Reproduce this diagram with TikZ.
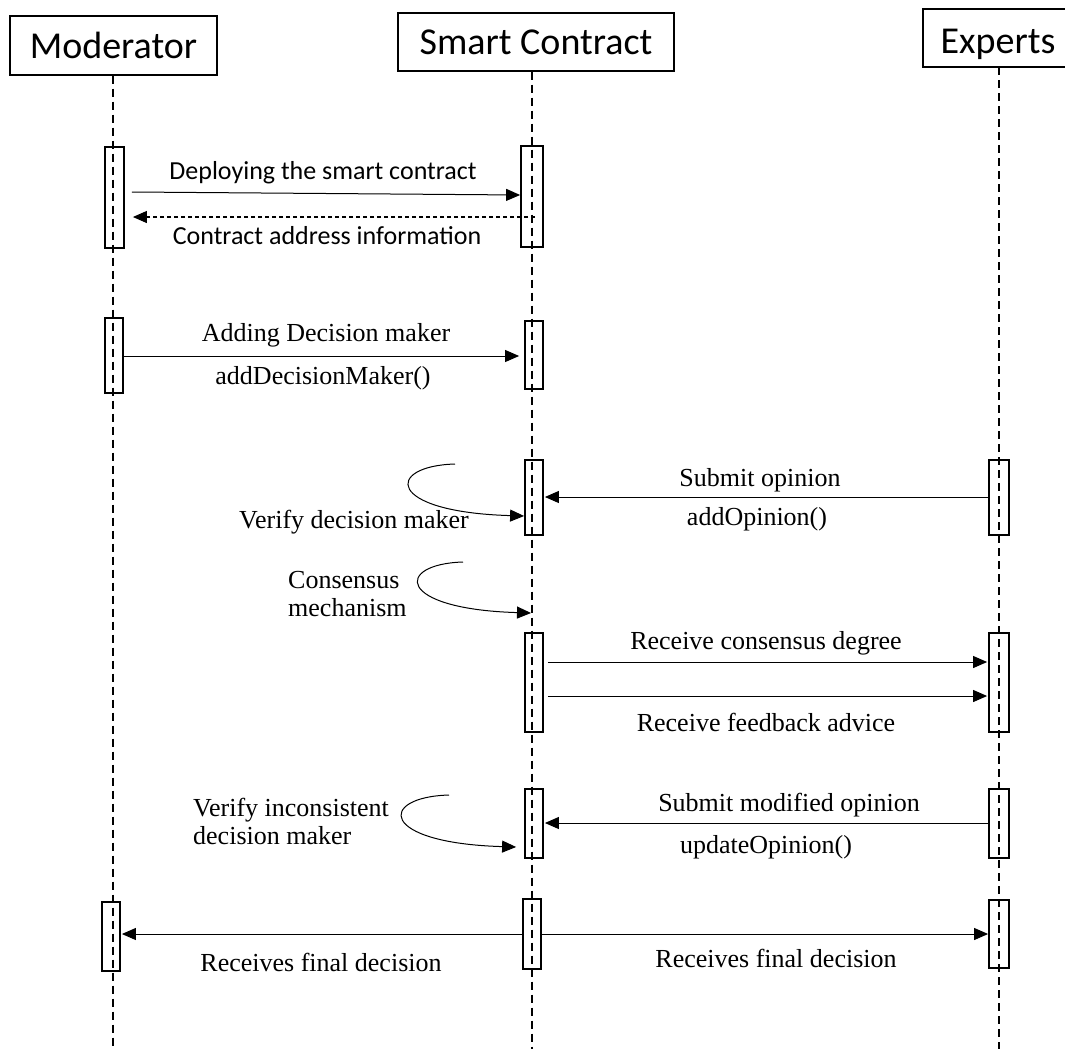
\documentclass[tikz,border=0pt]{standalone}
\usepackage{fontspec}
\setmainfont{Liberation Serif}
\newfontfamily\calib{Carlito}
\usetikzlibrary{arrows.meta,calc}
\tikzset{
  life/.style={line width=1.3pt, dash pattern=on 8pt off 5pt},
  actbar/.style={draw, line width=1.8pt, rectangle, inner sep=0pt},
  head/.style={draw, line width=1.4pt, rectangle, inner sep=0pt, font=\calib\fontsize{38}{40}\selectfont},
  msg/.style={line width=1pt, -{Triangle[length=14pt,width=12pt]}},
  rmsg/.style={line width=1.1pt, dash pattern=on 4pt off 3pt, -{Triangle[length=14pt,width=12pt]}},
  lbl/.style={inner sep=0pt, font=\fontsize{26}{28}\selectfont},
  slbl/.style={inner sep=0pt, font=\calib\fontsize{26}{28}\selectfont},
}
\newcommand{\actbox}[5]{\node[actbar, minimum width={(#4-#2)*1pt}, minimum height={(#5-#3)*1pt}] (#1) at ({(#2+#4)/2},{(#3+#5)/2}) {};}
\begin{document}
\begin{tikzpicture}[x=1pt,y=-1pt]
\useasboundingbox (0,0) rectangle (1065,1049);
% headers
\node[head, minimum width=207pt, minimum height=59pt] (mod) at (113.5,45.5) {Moderator};
\node[head, minimum width=276pt, minimum height=58pt] (sc) at (536,42) {Smart Contract};
\node[inner sep=0pt, font=\calib\fontsize{38}{40}\selectfont] (exp) at (998,44) {Experts};
\draw[line width=1.4pt] (1066,9) -| (923,67) -- (1066,67);
% lifeline ends
\coordinate (modbot) at (113,1049);
\coordinate (scbot) at (532,1049);
\coordinate (expbot) at (999,1049);
\coordinate (exptop) at (999,67);
\draw[life] (modbot |- mod.south) -- (modbot);
\draw[life] (scbot |- sc.south) -- (scbot);
\draw[life] (exptop) -- (expbot);
% activation bars
\actbox{m1}{105}{147}{124}{248}
\actbox{s1}{521}{146}{543}{247}
\actbox{m2}{105}{318}{123}{393}
\actbox{s2}{525}{321}{543}{389}
\actbox{s3}{525}{460}{543}{535}
\actbox{e3}{989}{460}{1009}{535}
\actbox{s4}{525}{633}{543}{732}
\actbox{e4}{989}{633}{1009}{732}
\actbox{s5}{525}{789}{543}{858}
\actbox{e5}{989}{789}{1009}{858}
\actbox{m6}{102}{902}{120}{971}
\actbox{s6}{523}{899}{541}{969}
\actbox{e6}{989}{900}{1009}{968}
% messages
\draw[msg] ($(m1.east |- 0,192)+(7,0)$) -- (s1.west |- 0,195);
\node[slbl] (t1) at (323,173) {Deploying the smart contract};
\draw[rmsg] ($(s1.center |- 0,217)+(3,0)$) -- ($(m1.east |- 0,217)+(8,0)$);
\node[slbl] (t2) at (327,236) {Contract address information};
\draw[msg] (m2.east |- 0,356) -- ($(s2.west |- 0,356)+(-5,0)$);
\node[lbl] (t3) at (326,335) {Adding Decision maker};
\node[lbl] (t4) at (323,378) {addDecisionMaker()};
\draw[msg] (e3.west |- 0,497) -- ($(s3.east |- 0,497)+(1,0)$);
\node[lbl] (t5) at (760,480) {Submit opinion};
\node[lbl] (t6) at (757,519) {addOpinion()};
\coordinate (c1) at (455,464);
\draw[msg] (c1) .. controls (385,466) and (385,512) .. (s3.west |- 0,516);
\node[lbl] (t7) at (354,522) {Verify decision maker};
\coordinate (c2) at (463,562);
\coordinate (c2e) at (531,613);
\draw[msg] (c2) .. controls (395,564) and (395,609) .. (c2e);
\node[lbl, align=left, anchor=west] (t8) at (288,594) {Consensus\\mechanism};
\draw[msg] ($(s4.east |- 0,662)+(4,0)$) -- ($(e4.west |- 0,662)+(-1,0)$);
\draw[msg] ($(s4.east |- 0,696)+(4,0)$) -- ($(e4.west |- 0,696)+(-1,0)$);
\node[lbl] (t9) at (766,643) {Receive consensus degree};
\node[lbl] (t10) at (766,722) {Receive feedback advice};
\draw[msg] (e5.west |- 0,823) -- ($(s5.east |- 0,823)+(1,0)$);
\node[lbl] (t11) at (789,805) {Submit modified opinion};
\node[lbl] (t12) at (766,847) {updateOpinion()};
\coordinate (c3) at (449,795);
\draw[msg] (c3) .. controls (378,797) and (378,843) .. ($(s5.west |- 0,847)+(-8,0)$);
\node[lbl, align=left, anchor=west] (t13) at (193,821) {Verify inconsistent\\decision maker};
\draw[msg] (s6.west |- 0,934) -- ($(m6.east |- 0,934)+(1,0)$);
\draw[msg] (s6.east |- 0,934) -- (e6.west |- 0,934);
\node[lbl] (t14) at (321,962) {Receives final decision};
\node[lbl] (t15) at (776,958) {Receives final decision};
\end{tikzpicture}
\end{document}
